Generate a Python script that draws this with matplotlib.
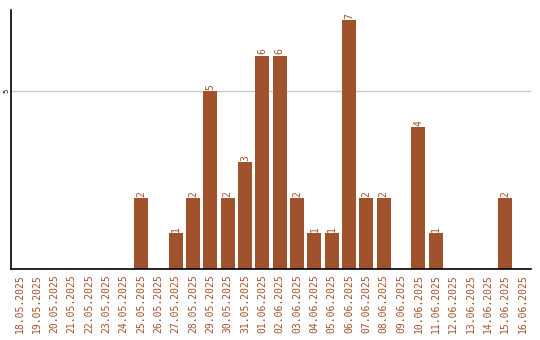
import numpy as np
import matplotlib.pyplot as plt

dates = ["18.05.2025", "19.05.2025", "20.05.2025", "21.05.2025", "22.05.2025",
         "23.05.2025", "24.05.2025", "25.05.2025", "26.05.2025", "27.05.2025",
         "28.05.2025", "29.05.2025", "30.05.2025", "31.05.2025", "01.06.2025",
         "02.06.2025", "03.06.2025", "04.06.2025", "05.06.2025", "06.06.2025",
         "07.06.2025", "08.06.2025", "09.06.2025", "10.06.2025", "11.06.2025",
         "12.06.2025", "13.06.2025", "14.06.2025", "15.06.2025", "16.06.2025"]
counts = [0, 0, 0, 0, 0, 0, 0, 2, 0, 1,
          2, 5, 2, 3, 6, 6, 2, 1, 1, 7,
          2, 2, 0, 4, 1, 0, 0, 0, 2, 0]

color = "#a0522d"

fig = plt.figure(figsize=(5.4, 3.4), dpi=100)
ax = fig.add_axes([0.0204, 0.2088, 0.9630, 0.7618])

x = np.arange(len(dates))
ax.bar(x, counts, width=0.8, color=color, zorder=2)

# value labels above the non-zero bars
for xi, v in zip(x, counts):
    if v > 0:
        ax.text(xi, v + 0.03, str(v), rotation=90, ha="center", va="bottom",
                color=color, fontsize=7, family="DejaVu Sans Mono")

ax.set_xlim(-0.5, len(dates) - 0.5)
ax.set_ylim(0, 7.28)
ax.set_xticks(x)
ax.set_xticklabels(dates, rotation=90, color=color, fontsize=7,
                   family="DejaVu Sans Mono")
ax.set_yticks([5])
ax.set_yticklabels(["5"], rotation=90, fontsize=5, va="center")
ax.tick_params(axis="x", length=0, pad=4)
ax.tick_params(axis="y", length=0, pad=1)
ax.grid(axis="y", color="#c8c8c8", linewidth=1, zorder=0)

for s in ["top", "right"]:
    ax.spines[s].set_visible(False)
for s in ["left", "bottom"]:
    ax.spines[s].set_color("black")
    ax.spines[s].set_linewidth(1.2)

fig.savefig("out.png", dpi=100)
